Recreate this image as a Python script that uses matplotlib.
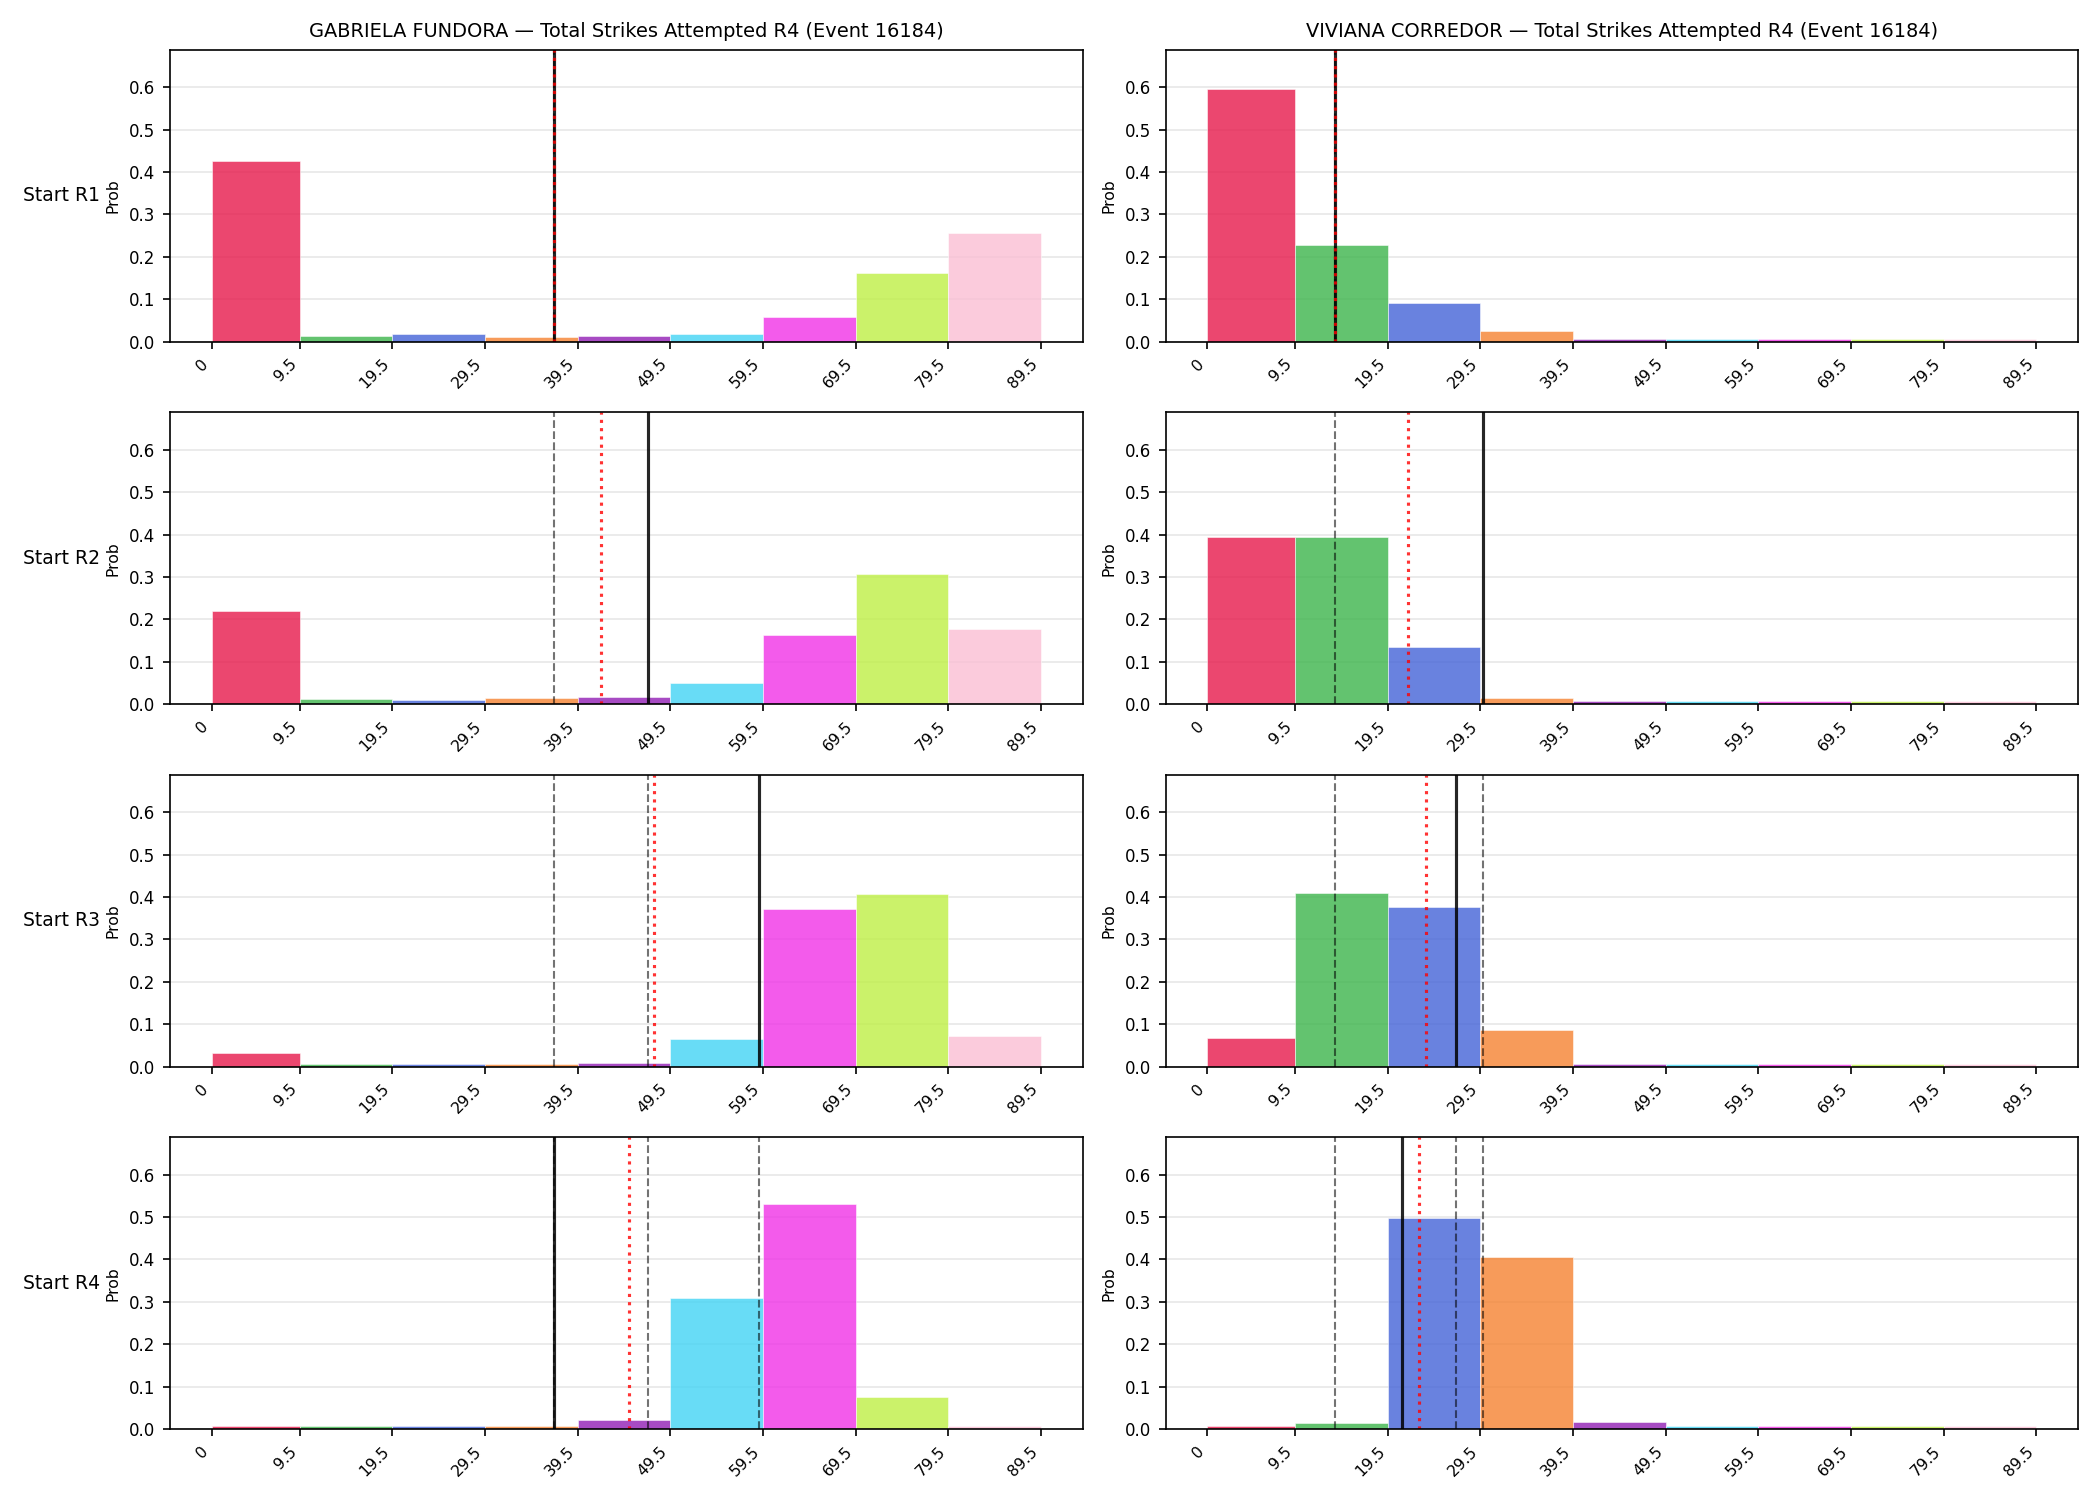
import numpy as np
import matplotlib
matplotlib.use("Agg")
import matplotlib.pyplot as plt

# bin edges and colours
edges = [0, 9.5, 19.5, 29.5, 39.5, 49.5, 59.5, 69.5, 79.5, 89.5]
tick_labels = ["0", "9.5", "19.5", "29.5", "39.5", "49.5", "59.5", "69.5", "79.5", "89.5"]
colors = ["#e6194b", "#3cb44b", "#4363d8", "#f58231", "#911eb4",
          "#42d4f4", "#f032e6", "#bfef45", "#fabed4"]

fighters = ["GABRIELA FUNDORA", "VIVIANA CORREDOR"]
row_labels = ["Start R1", "Start R2", "Start R3", "Start R4"]

# probabilities per bin, one list per start round
fundora_probs = [
    [0.426, 0.014, 0.019, 0.011, 0.014, 0.019, 0.059, 0.162, 0.256],
    [0.219, 0.012, 0.009, 0.014, 0.017, 0.049, 0.164, 0.306, 0.178],
    [0.032, 0.007, 0.007, 0.007, 0.009, 0.065, 0.372, 0.407, 0.072],
    [0.007, 0.007, 0.007, 0.007, 0.021, 0.310, 0.532, 0.075, 0.007],
]
corredor_probs = [
    [0.596, 0.228, 0.091, 0.025, 0.007, 0.007, 0.007, 0.007, 0.007],
    [0.395, 0.393, 0.134, 0.014, 0.007, 0.007, 0.007, 0.007, 0.007],
    [0.068, 0.409, 0.376, 0.087, 0.007, 0.007, 0.007, 0.007, 0.007],
    [0.007, 0.014, 0.499, 0.407, 0.016, 0.007, 0.007, 0.007, 0.007],
]

# solid line (current), dotted line (mean), dashed lines (other rounds)
fundora_current = [37.0, 47.1, 59.1, 37.0]
fundora_mean = [37.0, 42.0, 47.7, 45.0]
fundora_dashed = [[37.0], [37.0], [37.0, 47.1], [37.0, 47.1, 59.1]]

corredor_current = [13.8, 29.8, 26.9, 21.0]
corredor_mean = [13.8, 21.7, 23.6, 22.9]
corredor_dashed = [[13.8], [13.8], [13.8, 29.8], [13.8, 26.9, 29.8]]

probs = [fundora_probs, corredor_probs]
current = [fundora_current, corredor_current]
means = [fundora_mean, corredor_mean]
dashed = [fundora_dashed, corredor_dashed]

fig, axes = plt.subplots(4, 2, figsize=(14, 10), dpi=150)
fig.subplots_adjust(left=0.081, right=0.9895, top=0.9667, bottom=0.0473,
                    wspace=0.091, hspace=0.243)

widths = np.diff(edges)
for c in range(2):
    for r in range(4):
        ax = axes[r, c]
        ax.bar(edges[:-1], probs[c][r], width=widths, align="edge",
               color=colors, alpha=0.8, edgecolor="white", linewidth=0.3)
        for x in dashed[c][r]:
            ax.axvline(x, color="k", ls="--", lw=1, alpha=0.55)
        ax.axvline(current[c][r], color="k", lw=1.5, alpha=0.85)
        ax.axvline(means[c][r], color="red", ls=":", lw=1.5, alpha=0.8)
        ax.set_ylim(0, 0.688)
        ax.set_xticks(edges)
        ax.set_xticklabels(tick_labels, rotation=45, ha="right", fontsize=7.5)
        ax.tick_params(axis="y", labelsize=8)
        ax.set_ylabel("Prob", fontsize=7.5)
        ax.grid(axis="y", alpha=0.3)
        ax.set_axisbelow(True)
        if r == 0:
            ax.set_title(f"{fighters[c]} — Total Strikes Attempted R4 (Event 16184)",
                         fontsize=9.3)
        if c == 0:
            ax.annotate(row_labels[r], xy=(-0.161, 0.5), xycoords="axes fraction",
                        ha="left", va="center", fontsize=9)

fig.savefig("out.png", dpi=150)
